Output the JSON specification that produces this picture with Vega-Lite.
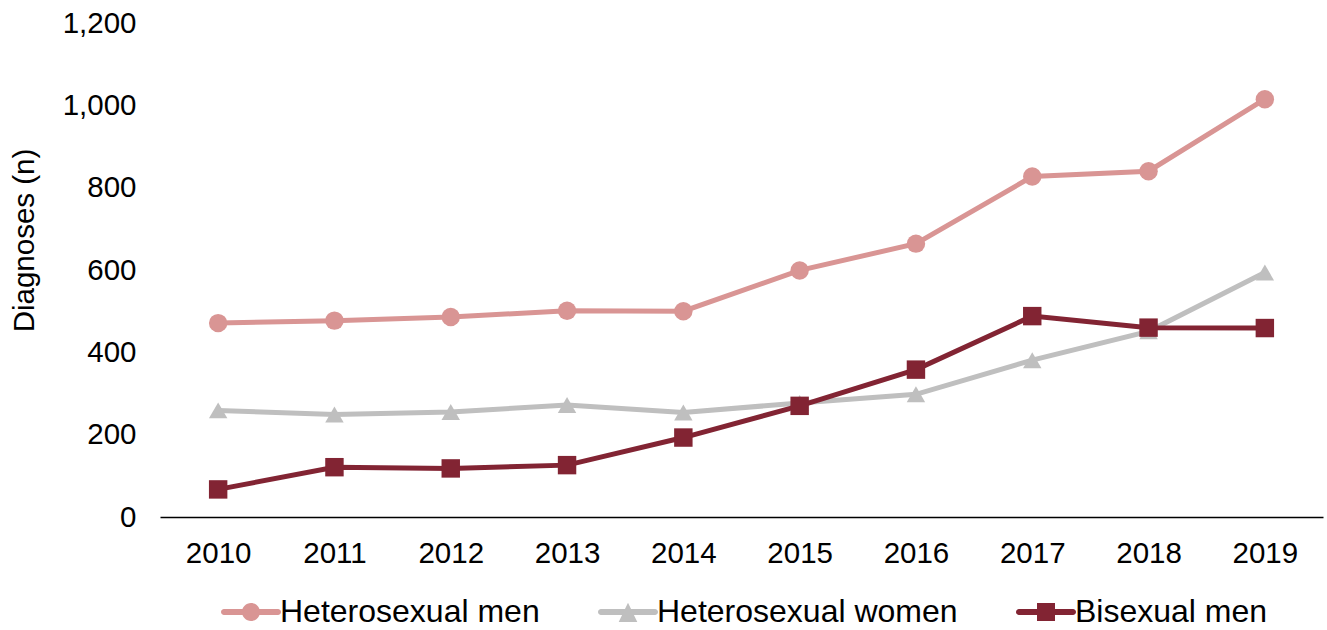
{
  "$schema": "https://vega.github.io/schema/vega-lite/v6.json",
  "width": 1163,
  "height": 494,
  "autosize": {"type": "none"},
  "padding": {"left": 160, "top": 23, "right": 4, "bottom": 113},
  "background": "white",
  "config": {
    "view": {"stroke": null},
    "font": "Liberation Sans"
  },
  "data": {
    "values": [
      {"year": "2010", "series": "Heterosexual men", "value": 471},
      {"year": "2011", "series": "Heterosexual men", "value": 477},
      {"year": "2012", "series": "Heterosexual men", "value": 486},
      {"year": "2013", "series": "Heterosexual men", "value": 501},
      {"year": "2014", "series": "Heterosexual men", "value": 500},
      {"year": "2015", "series": "Heterosexual men", "value": 599},
      {"year": "2016", "series": "Heterosexual men", "value": 664},
      {"year": "2017", "series": "Heterosexual men", "value": 827},
      {"year": "2018", "series": "Heterosexual men", "value": 840},
      {"year": "2019", "series": "Heterosexual men", "value": 1015},
      {"year": "2010", "series": "Heterosexual women", "value": 259},
      {"year": "2011", "series": "Heterosexual women", "value": 249},
      {"year": "2012", "series": "Heterosexual women", "value": 255},
      {"year": "2013", "series": "Heterosexual women", "value": 272},
      {"year": "2014", "series": "Heterosexual women", "value": 254},
      {"year": "2015", "series": "Heterosexual women", "value": 277},
      {"year": "2016", "series": "Heterosexual women", "value": 298},
      {"year": "2017", "series": "Heterosexual women", "value": 381},
      {"year": "2018", "series": "Heterosexual women", "value": 451},
      {"year": "2019", "series": "Heterosexual women", "value": 594},
      {"year": "2010", "series": "Bisexual men", "value": 67},
      {"year": "2011", "series": "Bisexual men", "value": 121},
      {"year": "2012", "series": "Bisexual men", "value": 118},
      {"year": "2013", "series": "Bisexual men", "value": 126},
      {"year": "2014", "series": "Bisexual men", "value": 193},
      {"year": "2015", "series": "Bisexual men", "value": 270},
      {"year": "2016", "series": "Bisexual men", "value": 358},
      {"year": "2017", "series": "Bisexual men", "value": 488},
      {"year": "2018", "series": "Bisexual men", "value": 460},
      {"year": "2019", "series": "Bisexual men", "value": 459}
    ]
  },
  "encoding": {
    "x": {
      "field": "year",
      "type": "ordinal",
      "scale": {"type": "point", "padding": 0.5},
      "axis": {
        "title": null,
        "labelAngle": 0,
        "labelFontSize": 29.5,
        "labelColor": "#000000",
        "labelPadding": 22,
        "ticks": false,
        "tickSize": 0,
        "domainColor": "#000000",
        "domainWidth": 1.5,
        "grid": false
      }
    },
    "y": {
      "field": "value",
      "type": "quantitative",
      "scale": {"domain": [0, 1200], "nice": false},
      "axis": {
        "title": "Diagnoses (n)",
        "titleFontSize": 29.5,
        "titleFontWeight": "normal",
        "titleColor": "#000000",
        "titleX": -127,
        "titleY": 217,
        "titleBaseline": "alphabetic",
        "values": [0, 200, 400, 600, 800, 1000, 1200],
        "format": ",d",
        "labelFontSize": 29.5,
        "labelColor": "#000000",
        "labelPadding": 24,
        "ticks": false,
        "tickSize": 0,
        "domain": false,
        "grid": false
      }
    }
  },
  "layer": [
    {
      "mark": {"type": "line", "strokeWidth": 5},
      "encoding": {
        "color": {
          "field": "series",
          "type": "nominal",
          "scale": {
            "domain": ["Heterosexual men", "Heterosexual women", "Bisexual men"],
            "range": ["#D99594", "#BFBFBF", "#822433"]
          },
          "legend": null
        }
      }
    },
    {
      "mark": {"type": "point", "filled": true, "opacity": 1, "size": 340},
      "encoding": {
        "color": {
          "field": "series",
          "type": "nominal",
          "scale": {
            "domain": ["Heterosexual men", "Heterosexual women", "Bisexual men"],
            "range": ["#D99594", "#BFBFBF", "#822433"]
          },
          "legend": null
        },
        "shape": {
          "field": "series",
          "type": "nominal",
          "scale": {
            "domain": ["Heterosexual men", "Heterosexual women", "Bisexual men"],
            "range": ["circle", "triangle-up", "square"]
          },
          "legend": null
        }
      }
    },
    {
      "mark": {"type": "point", "filled": true, "opacity": 1, "size": 0},
      "encoding": {
        "fill": {
          "field": "series",
          "type": "nominal",
          "scale": {
            "domain": ["Heterosexual men", "Heterosexual women", "Bisexual men"],
            "range": ["#D99594", "#BFBFBF", "#822433"]
          },
          "legend": {
            "title": null,
            "orient": "none",
            "legendX": 60,
            "legendY": 558,
            "direction": "horizontal",
            "padding": 0,
            "symbolSize": 3600,
            "symbolOpacity": 1,
            "symbolStrokeColor": "transparent",
            "labelFontSize": 32,
            "labelColor": "#000000",
            "labelOffset": -2,
            "labelLimit": 500,
            "columnPadding": 55
          }
        },
        "shape": {
          "field": "series",
          "type": "nominal",
          "scale": {
            "domain": ["Heterosexual men", "Heterosexual women", "Bisexual men"],
            "range": [
              "M-0.9,-0.1H0.9A0.1,0.1,0,0,1,0.9,0.1H-0.9A0.1,0.1,0,0,1,-0.9,-0.1Z M0.3,0A0.3,0.3,0,1,1,-0.3,0A0.3,0.3,0,1,1,0.3,0Z",
              "M-0.9,-0.1H0.9A0.1,0.1,0,0,1,0.9,0.1H-0.9A0.1,0.1,0,0,1,-0.9,-0.1Z M0,-0.31L0.31,0.33L-0.31,0.33Z",
              "M-0.9,-0.1H0.9A0.1,0.1,0,0,1,0.9,0.1H-0.9A0.1,0.1,0,0,1,-0.9,-0.1Z M-0.3,-0.3H0.3V0.3H-0.3Z"
            ]
          },
          "legend": {
            "title": null,
            "orient": "none",
            "legendX": 60,
            "legendY": 558,
            "direction": "horizontal",
            "padding": 0,
            "symbolSize": 3600,
            "symbolOpacity": 1,
            "symbolStrokeColor": "transparent",
            "labelFontSize": 32,
            "labelColor": "#000000",
            "labelOffset": -2,
            "labelLimit": 500,
            "columnPadding": 55
          }
        }
      }
    }
  ],
  "resolve": {"scale": {"shape": "independent", "fill": "independent"}}
}
